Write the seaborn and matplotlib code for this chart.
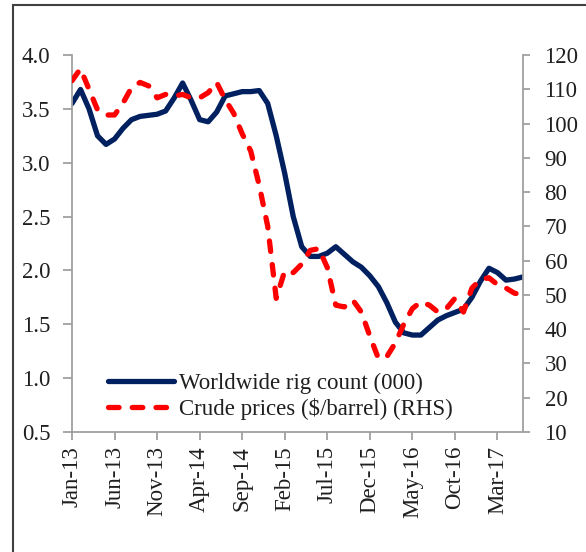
import matplotlib
matplotlib.use("Agg")
import matplotlib.pyplot as plt
from matplotlib.patches import Rectangle
import numpy as np
import pandas as pd
import seaborn as sns

# monthly data, Jan-13 .. Jun-17
months = pd.date_range("2013-01-01", periods=54, freq="MS")

rig_count = [
    3.55, 3.68, 3.50, 3.25, 3.17, 3.22, 3.32, 3.40, 3.43, 3.44,
    3.45, 3.48, 3.60, 3.74, 3.58, 3.40, 3.38, 3.47, 3.62, 3.64,
    3.66, 3.66, 3.67, 3.55, 3.25, 2.90, 2.50, 2.22, 2.13, 2.13,
    2.16, 2.22, 2.15, 2.08, 2.03, 1.95, 1.85, 1.70, 1.52, 1.42,
    1.40, 1.40, 1.47, 1.54, 1.58, 1.61, 1.64, 1.75, 1.90, 2.02,
    1.98, 1.91, 1.92, 1.94,
]

crude_price = [
    112.5, 116.0, 110.0, 104.0, 102.5, 102.5, 106.0, 110.5, 112.0, 111.0,
    107.5, 108.5, 108.0, 108.5, 107.5, 107.5, 109.0, 112.0, 107.0, 103.0,
    97.0, 92.0, 82.0, 70.0, 49.0, 57.0, 56.5, 59.0, 63.0, 63.5,
    58.0, 47.0, 46.5, 48.5, 45.0, 38.0, 31.5, 32.0, 36.0, 41.5,
    46.0, 48.0, 47.0, 45.0, 46.0, 49.0, 45.0, 52.0, 54.5, 55.0,
    53.0, 52.0, 50.5, 50.0,
]

rig_label = "Worldwide rig count (000)"
crude_label = "Crude prices ($/barrel) (RHS)"

df = pd.DataFrame({
    "idx": np.arange(len(months)),
    "rig": rig_count,
    "crude": crude_price,
})

sns.set_style("white")
plt.rcParams["font.family"] = ["Liberation Serif", "DejaVu Serif"]
plt.rcParams["font.size"] = 16.5

navy = "#002060"
red = "#FF0000"
grey = "#A0A0A0"
txt = "#1f1f1f"
fs = 16.5

fig = plt.figure(figsize=(5.86, 5.52), dpi=100)
ax = fig.add_axes([72 / 586, 1 - 432 / 552, (523 - 72) / 586, (432 - 55) / 552])
ax2 = ax.twinx()

sns.lineplot(data=df, x="idx", y="rig", ax=ax, color=navy, linewidth=3.8,
             label=rig_label, legend=False)
sns.lineplot(data=df, x="idx", y="crude", ax=ax2, color=red, linewidth=3.8,
             label=crude_label, legend=False)

ax.lines[0].set_solid_joinstyle("round")
ax.lines[0].set_solid_capstyle("round")
red_line = ax2.lines[0]
red_line.set_dashes([2.0, 2.5])
red_line.set_dash_capstyle("round")
red_line.set_dash_joinstyle("round")

ax.set_xlim(0, 53)
ax.set_ylim(0.5, 4.0)
ax2.set_ylim(10, 120)
ax.set_yticks(np.arange(0.5, 4.01, 0.5))
ax.set_yticklabels([f"{v:.1f}" for v in np.arange(0.5, 4.01, 0.5)])
ax2.set_yticks(np.arange(10, 121, 10))

tick_pos = np.arange(0, 54, 5)
ax.set_xticks(tick_pos)
ax.set_xticklabels([months[i].strftime("%b-%y") for i in tick_pos], rotation=90)

for a in (ax, ax2):
    a.set_xlabel("")
    a.set_ylabel("")
    a.spines["top"].set_visible(False)
    for s in ("left", "right", "bottom"):
        a.spines[s].set_color(grey)
        a.spines[s].set_linewidth(1.3)
ax.spines["right"].set_visible(False)
ax2.spines["left"].set_visible(False)
ax2.spines["bottom"].set_visible(False)

ax.tick_params(axis="y", left=True, direction="out", length=6.5, width=1.3,
               color=grey, labelcolor=txt, labelsize=fs, pad=9)
ax.tick_params(axis="x", bottom=True, direction="out", length=6, width=1.3,
               color=grey, labelcolor=txt, labelsize=fs, pad=4)
ax2.tick_params(axis="y", right=True, direction="out", length=5, width=1.3,
                color=grey, labelcolor=txt, labelsize=fs, pad=10.5)

handles = ax.get_lines()[:1] + ax2.get_lines()[:1]
fig.legend(handles, [rig_label, crude_label],
           loc="upper left", bbox_to_anchor=(108 / 586, 1 - 373 / 552),
           frameon=False, fontsize=fs, handlelength=2.9, handletextpad=0.2,
           labelspacing=0.15, borderpad=0, borderaxespad=0, labelcolor=txt)

# outer frame (cropped on the right and bottom)
fig.patches.append(Rectangle((13 / 586, -0.1), 2.0, 1.1 - 5 / 552,
                             transform=fig.transFigure, fill=False,
                             edgecolor="#404040", linewidth=1.5, clip_on=False))

fig.savefig("out.png", dpi=100)
